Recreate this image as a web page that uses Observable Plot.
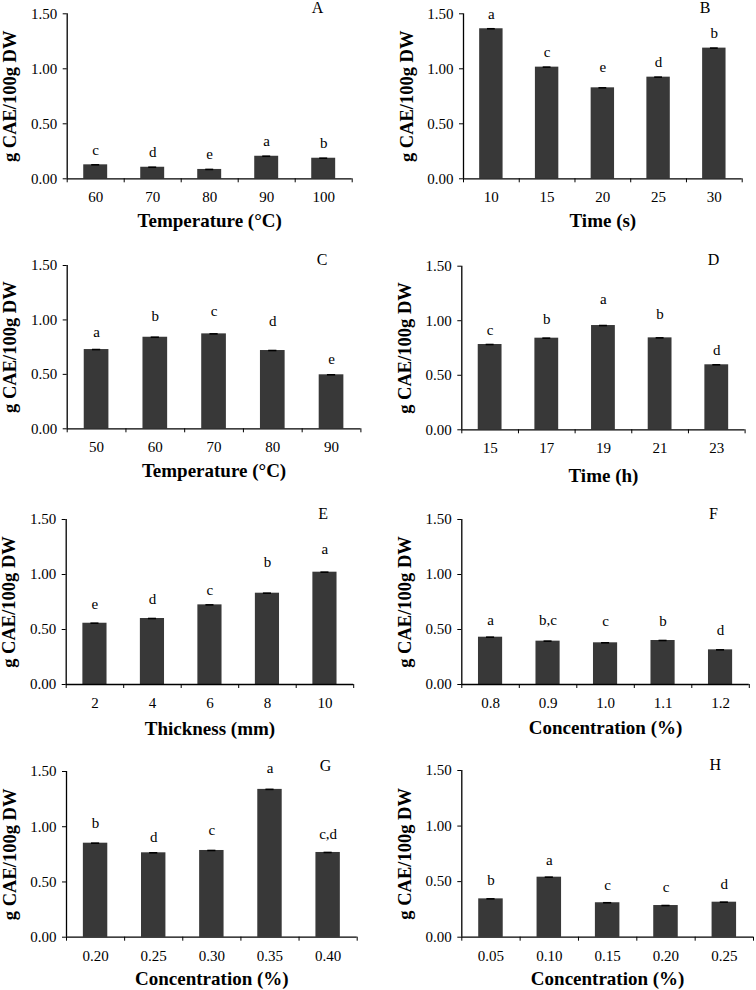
<!DOCTYPE html>
<html>
<head>
<meta charset="utf-8">
<script src="https://cdn.jsdelivr.net/npm/d3@7"></script>
<script src="https://cdn.jsdelivr.net/npm/@observablehq/plot@0.6"></script>
<style>
  html, body { margin: 0; padding: 0; background: white; }
  #root { position: relative; width: 756px; height: 990px; overflow: hidden; background: white; }
  .panel { position: absolute; }
  .panel svg { overflow: visible; background: transparent; font-family: "Liberation Serif", "Times New Roman", serif; }
  .panel svg text, .panel svg g { font-family: "Liberation Serif", "Times New Roman", serif !important; }
</style>
</head>
<body>
<div id="root"></div>
<script>
// ---- Data ----
const yLabel = "g CAE/100g DW";
const yTicks = [0, 0.5, 1.0, 1.5];

const catsA = ["60", "70", "80", "90", "100"];
const valsA = [0.127, 0.105, 0.085, 0.205, 0.187];
const lettersA = ["c", "d", "e", "a", "b"];
const letterYA = [0.257, 0.242, 0.221, 0.339, 0.321];
const titleA = "Temperature (°C)";

const catsB = ["10", "15", "20", "25", "30"];
const valsB = [1.364, 1.015, 0.827, 0.924, 1.188];
const lettersB = ["a", "c", "e", "d", "b"];
const letterYB = [1.50, 1.151, 1.015, 1.06, 1.327];
const titleB = "Time (s)";

const catsC = ["50", "60", "70", "80", "90"];
const valsC = [0.728, 0.841, 0.872, 0.719, 0.496];
const lettersC = ["a", "b", "c", "d", "e"];
const letterYC = [0.887, 1.031, 1.080, 0.985, 0.636];
const titleC = "Temperature (°C)";

const catsD = ["15", "17", "19", "21", "23"];
const valsD = [0.782, 0.840, 0.956, 0.843, 0.596];
const lettersD = ["c", "b", "a", "b", "d"];
const letterYD = [0.917, 1.011, 1.201, 1.063, 0.727];
const titleD = "Time (h)";

const catsE = ["2", "4", "6", "8", "10"];
const valsE = [0.557, 0.600, 0.724, 0.830, 1.021];
const lettersE = ["e", "d", "c", "b", "a"];
const letterYE = [0.727, 0.779, 0.861, 1.109, 1.233];
const titleE = "Thickness (mm)";

const catsF = ["0.8", "0.9", "1.0", "1.1", "1.2"];
const valsF = [0.430, 0.394, 0.379, 0.400, 0.315];
const lettersF = ["a", "b,c", "c", "b", "d"];
const letterYF = [0.588, 0.588, 0.576, 0.576, 0.491];
const titleF = "Concentration (%)";

const catsG = ["0.20", "0.25", "0.30", "0.35", "0.40"];
const valsG = [0.851, 0.764, 0.785, 1.338, 0.767];
const lettersG = ["b", "d", "c", "a", "c,d"];
const letterYG = [1.033, 0.906, 0.972, 1.528, 0.936];
const titleG = "Concentration (%)";

const catsH = ["0.05", "0.10", "0.15", "0.20", "0.25"];
const valsH = [0.345, 0.540, 0.310, 0.285, 0.315];
const lettersH = ["b", "a", "c", "c", "d"];
const letterYH = [0.51, 0.69, 0.465, 0.45, 0.48];
const titleH = "Concentration (%)";

// ---- Layout (page pixel geometry of each panel) ----
const panels = [
  {tag: "A", cats: catsA, vals: valsA, letters: lettersA, letterY: letterYA, title: titleA,
   left: 0, top: 0, w: 378, h: 260, x0: 66.7, x1: 351.7, yTop: 13.3, yBot: 178.3, titleOff: 41.7, tagDx: 34.7},
  {tag: "B", cats: catsB, vals: valsB, letters: lettersB, letterY: letterYB, title: titleB,
   left: 378, top: 0, w: 378, h: 260, x0: 463, x1: 741.7, yTop: 13.3, yBot: 178.3, titleOff: 41.7, tagDx: 37},
  {tag: "C", cats: catsC, vals: valsC, letters: lettersC, letterY: letterYC, title: titleC,
   left: 0, top: 240, w: 378, h: 260, x0: 66.7, x1: 360.4, yTop: 265, yBot: 428.3, titleOff: 41.7, tagDx: 38.7},
  {tag: "D", cats: catsD, vals: valsD, letters: lettersD, letterY: letterYD, title: titleD,
   left: 378, top: 240, w: 378, h: 260, x0: 461.3, x1: 744.6, yTop: 265.7, yBot: 429.3, titleOff: 45.7, tagDx: 31.6},
  {tag: "E", cats: catsE, vals: valsE, letters: lettersE, letterY: letterYE, title: titleE,
   left: 0, top: 480, w: 378, h: 260, x0: 65.7, x1: 353.2, yTop: 519, yBot: 684, titleOff: 44.3, tagDx: 30.5},
  {tag: "F", cats: catsF, vals: valsF, letters: lettersF, letterY: letterYF, title: titleF,
   left: 378, top: 480, w: 378, h: 260, x0: 461.3, x1: 748.8, yTop: 519, yBot: 684, titleOff: 43.3, tagDx: 35.8},
  {tag: "G", cats: catsG, vals: valsG, letters: lettersG, letterY: letterYG, title: titleG,
   left: 0, top: 720, w: 378, h: 270, x0: 66, x1: 356.7, yTop: 771, yBot: 936.7, titleOff: 41.6, tagDx: 31.7},
  {tag: "H", cats: catsH, vals: valsH, letters: lettersH, letterY: letterYH, title: titleH,
   left: 378, top: 720, w: 378, h: 270, x0: 461.3, x1: 753, yTop: 770, yBot: 936.7, titleOff: 41.6, tagDx: 38.3}
];

const root = document.getElementById("root");
const FONT = "'Liberation Serif', 'Times New Roman', serif";
const halfBar = 0.21;   // half bar width in category units
const halfCap = 0.07;   // half error-cap width

for (const p of panels) {
  const n = p.cats.length;
  const rows = p.cats.map((c, i) => ({i, cat: c, v: p.vals[i], letter: p.letters[i], ly: p.letterY[i]}));
  const idx = d3.range(n);
  const bounds = d3.range(n + 1).map(k => k - 0.5);

  const chart = Plot.plot({
    width: p.w,
    height: p.h,
    marginLeft: p.x0 - p.left,
    marginRight: p.left + p.w - p.x1,
    marginTop: p.yTop - p.top,
    marginBottom: p.top + p.h - p.yBot,
    style: {fontFamily: FONT, fontSize: "15px", color: "black", background: "transparent", overflow: "visible"},
    x: {type: "linear", domain: [-0.5, n - 0.5]},
    y: {domain: [0, 1.5]},
    marks: [
      Plot.rectY(rows, {x1: d => d.i - halfBar, x2: d => d.i + halfBar, y1: 0, y2: "v", fill: "#383838"}),
      Plot.ruleY(rows, {y: "v", x1: d => d.i - halfCap, x2: d => d.i + halfCap, stroke: "black", strokeWidth: 1.6}),
      Plot.text(rows, {x: "i", y: "ly", text: "letter", fontSize: 15, fontFamily: FONT, fill: "black"}),
      // axes
      Plot.axisY({ticks: yTicks, tickFormat: d3.format(".2f"), tickSize: 4, tickPadding: 6, label: null,
        fontSize: 15, fontFamily: FONT, stroke: "black"}),
      Plot.axisX({ticks: bounds, tickFormat: () => "", tickSize: 4, label: null, stroke: "black"}),
      Plot.axisX({ticks: idx, tickFormat: i => p.cats[i], tickSize: 0, tickPadding: 13, label: null,
        fontSize: 15, fontFamily: FONT}),
      Plot.ruleY([0], {stroke: "black", strokeWidth: 1.3}),
      Plot.ruleX([-0.5], {y1: 0, y2: 1.5, stroke: "black", strokeWidth: 1.3}),
      // titles
      Plot.text([p.title], {text: d => d, frameAnchor: "bottom", dy: p.titleOff + 6.3, lineAnchor: "bottom",
        fontSize: 19, fontWeight: "bold", fontFamily: FONT, fill: "black"}),
      Plot.text([yLabel], {text: d => d, frameAnchor: "left", rotate: -90, dx: -64, lineAnchor: "top",
        textAnchor: "middle", fontSize: 18.5, fontWeight: "bold", fontFamily: FONT, fill: "black"}),
      Plot.text([p.tag], {text: d => d, frameAnchor: "top-right", dx: -p.tagDx, dy: -6, textAnchor: "middle",
        lineAnchor: "middle", fontSize: 16, fontFamily: FONT, fill: "black"})
    ]
  });
  const div = document.createElement("div");
  div.className = "panel";
  div.style.left = p.left + "px";
  div.style.top = p.top + "px";
  div.style.width = p.w + "px";
  div.style.height = p.h + "px";
  div.appendChild(chart);
  root.appendChild(div);
}
</script>
</body>
</html>
